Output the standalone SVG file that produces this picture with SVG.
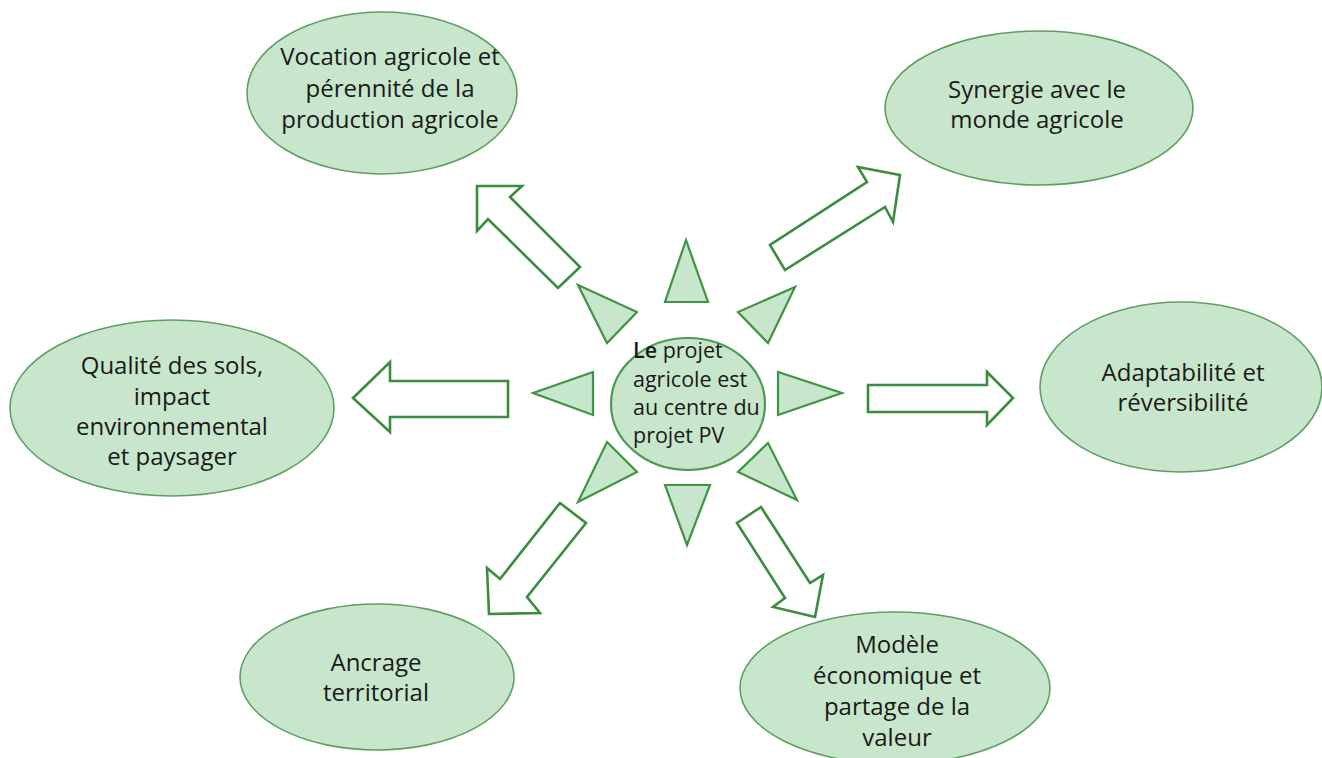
<svg xmlns="http://www.w3.org/2000/svg" width="1322" height="758" viewBox="0 0 1322 758">
<style>
.node{fill:#c8e6cb;stroke:#5f9f63;stroke-width:1.6}
.center{fill:#c8e6cb;stroke:#4f9a54;stroke-width:2.2}
.tri{fill:#c8e6cb;stroke:#3f9446;stroke-width:2.2;stroke-linejoin:miter}
.arrow{fill:#ffffff;stroke:#3a8d3e;stroke-width:2.6;stroke-linejoin:miter}
.t{font-family:"Open Sans","Liberation Sans",sans-serif;font-size:24px;fill:#1a1a1a;text-anchor:middle}
.c{font-family:"Open Sans","Liberation Sans",sans-serif;font-size:21.5px;fill:#1a1a1a}
</style>
<rect width="1322" height="758" fill="#ffffff"/>
<g id="connectors">
<polygon class="arrow" points="477,186 522,186 510,197 580,267 558,288 488,219 477,231"/>
<polygon class="arrow" points="858,167 900,175 893,222 885,207 785,270 770,245 867,182"/>
<polygon class="arrow" points="353,398 390,362 390,381 508,381 508,417 390,417 390,432"/>
<polygon class="arrow" points="868,385 987,385 987,372 1013,398 987,425 987,412 868,412"/>
<polygon class="arrow" points="560,503 586,523 527,597 540,613 489,614 487,568 500,579"/>
<polygon class="arrow" points="737,523 761,507 810,583 823,575 815,617 773,607 785,598"/>
</g>
<g id="rays">
<polygon class="tri" points="686,240 665,302 708,302"/>
<polygon class="tri" points="665,485 710,485 687,545"/>
<polygon class="tri" points="533,393 593,372 593,415"/>
<polygon class="tri" points="778,372 778,415 842,393"/>
<polygon class="tri" points="578,285 637,312 607,343"/>
<polygon class="tri" points="795,287 738,312 768,343"/>
<polygon class="tri" points="607,442 637,472 578,502"/>
<polygon class="tri" points="768,443 738,472 797,500"/>
</g>
<g id="center">
<ellipse class="center" cx="688" cy="404" rx="77" ry="66"/>
<text class="c" x="633" y="358"><tspan font-weight="600">Le</tspan> projet</text>
<text class="c" x="633" y="387">agricole est</text>
<text class="c" x="633" y="415">au centre du</text>
<text class="c" x="633" y="443">projet PV</text>
</g>
<g id="vocation">
<ellipse class="node" cx="382" cy="93" rx="135" ry="81"/>
<text class="t" x="390" y="65">Vocation agricole et</text>
<text class="t" x="390" y="97">pérennité de la</text>
<text class="t" x="390" y="128">production agricole</text>
</g>
<g id="synergie">
<ellipse class="node" cx="1039" cy="108" rx="154" ry="77"/>
<text class="t" x="1037" y="98">Synergie avec le</text>
<text class="t" x="1037" y="128">monde agricole</text>
</g>
<g id="qualite">
<ellipse class="node" cx="172" cy="408" rx="162" ry="88"/>
<text class="t" x="172" y="374">Qualité des sols,</text>
<text class="t" x="172" y="405">impact</text>
<text class="t" x="172" y="435">environnemental</text>
<text class="t" x="172" y="465">et paysager</text>
</g>
<g id="adaptabilite">
<ellipse class="node" cx="1181" cy="387" rx="141" ry="85"/>
<text class="t" x="1183" y="381">Adaptabilité et</text>
<text class="t" x="1183" y="411">réversibilité</text>
</g>
<g id="ancrage">
<ellipse class="node" cx="377" cy="677" rx="137" ry="73"/>
<text class="t" x="376" y="671">Ancrage</text>
<text class="t" x="376" y="701">territorial</text>
</g>
<g id="modele">
<ellipse class="node" cx="895" cy="688" rx="155" ry="76"/>
<text class="t" x="897" y="653">Modèle</text>
<text class="t" x="897" y="684">économique et</text>
<text class="t" x="897" y="715">partage de la</text>
<text class="t" x="897" y="746">valeur</text>
</g>
</svg>
